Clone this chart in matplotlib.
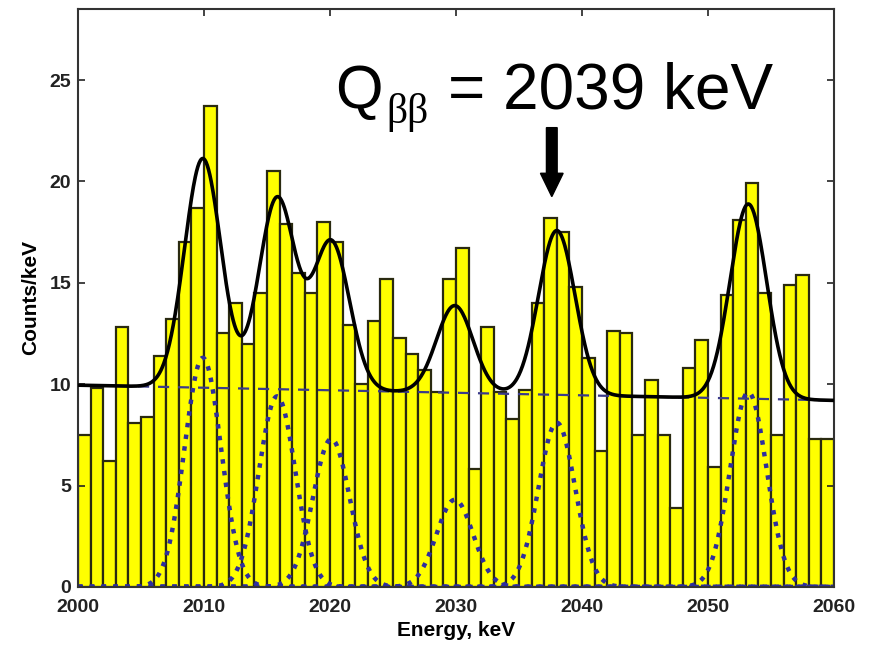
import numpy as np
import matplotlib
matplotlib.use("Agg")
import matplotlib.pyplot as plt

plt.rcParams['font.family'] = ['Liberation Sans', 'DejaVu Sans']

# 1 keV bins, counts per keV
bin_left = np.arange(2000, 2060)
counts = [7.5, 9.8, 6.2, 12.8, 8.1, 8.4, 11.4, 13.2, 17.0, 18.7,
          23.7, 12.5, 14.0, 12.0, 14.5, 20.5, 17.9, 15.5, 14.5, 18.0,
          17.0, 12.9, 10.0, 13.1, 15.2, 12.3, 11.5, 10.7, 9.6, 15.2,
          16.7, 5.8, 12.8, 9.6, 8.3, 9.7, 14.0, 18.2, 17.5, 14.8,
          11.3, 6.7, 12.6, 12.5, 7.5, 10.2, 7.5, 3.9, 10.8, 12.2,
          5.9, 14.4, 18.1, 19.9, 14.5, 7.5, 14.9, 15.4, 7.3, 7.3]

# fit parameters: linear background + gaussian lines
bg_ends = [9.95, 9.2]          # background at 2000 and 2060 keV
peak_centers = [2009.9, 2015.8, 2020.1, 2029.9, 2038.0, 2053.2]
peak_heights = [11.3, 9.4, 7.3, 4.3, 8.1, 9.6]
peak_sigma = 1.45

x_ticks = [2000, 2010, 2020, 2030, 2040, 2050, 2060]
y_ticks = [0, 5, 10, 15, 20, 25]

fig = plt.figure(figsize=(8.77, 6.45), dpi=100)
ax = fig.add_axes([0.089, 0.09, 0.862, 0.896])

ax.bar(bin_left, counts, width=1.0, align='edge', color='#ffff00',
       edgecolor='#2a2a10', linewidth=1.6, zorder=1)

e = np.linspace(2000, 2060, 1200)
bg = np.interp(e, [2000, 2060], bg_ends)
total = bg.copy()
for c, h in zip(peak_centers, peak_heights):
    g = h * np.exp(-0.5 * ((e - c) / peak_sigma) ** 2)
    total += g
    ax.plot(e, g, ':', color='#2e2e9e', lw=3.2, zorder=2)

ax.plot(e, bg, '--', color='#3a3a8a', lw=1.6, dashes=(5, 4), zorder=2)
ax.plot(e, total, '-', color='black', lw=2.6, zorder=3)

# arrow marking the Q value
ax.arrow(2037.6, 22.65, 0, -3.4, width=0.85, head_width=1.8,
         head_length=1.15, length_includes_head=True, color='black', zorder=4)
ax.text(2020.4, 23.6, 'Q', fontsize=44, ha='left', va='baseline', zorder=5)
ax.text(2024.5, 22.9, '\u03b2\u03b2', fontsize=30, family='Liberation Serif',
        ha='left', va='baseline', zorder=5)
ax.text(2029.4, 23.6, '= 2039 keV', fontsize=46, ha='left', va='baseline', zorder=5)

ax.set_xlim(2000, 2060)
ax.set_ylim(0, 28.5)
ax.set_xticks(x_ticks)
ax.set_yticks(y_ticks)
ax.tick_params(direction='in', top=True, right=True, length=5, width=1.2,
               labelsize=14, colors='#222222')
ax.tick_params(axis='x', pad=9)
ax.tick_params(axis='y', pad=5)
for lab in ax.get_xticklabels() + ax.get_yticklabels():
    lab.set_fontweight('bold')
for s in ax.spines.values():
    s.set_linewidth(1.5)
    s.set_color('#333333')

ax.set_xlabel('Energy, keV', fontsize=15, fontweight='bold', labelpad=3)
ax.set_ylabel('Counts/keV', fontsize=15, fontweight='bold', labelpad=7)

fig.savefig('out.png', dpi=100)
